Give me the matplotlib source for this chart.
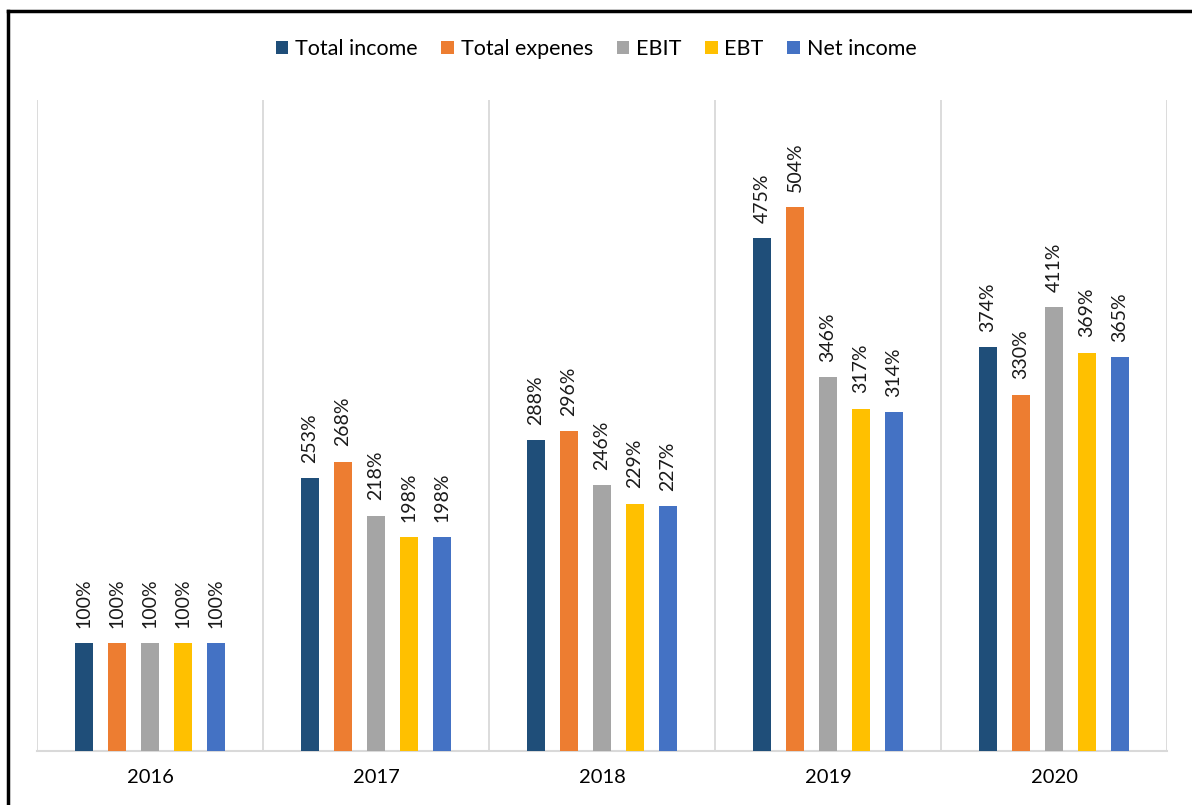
import matplotlib
matplotlib.use("Agg")
import matplotlib.pyplot as plt
from matplotlib.lines import Line2D
import numpy as np

plt.rcParams['font.family'] = ['Lato', 'DejaVu Sans']

years = ['2016', '2017', '2018', '2019', '2020']
series = ['Total income', 'Total expenes', 'EBIT', 'EBT', 'Net income']
total_income = [100, 253, 288, 475, 374]
total_expenses = [100, 268, 296, 504, 330]
ebit = [100, 218, 246, 346, 411]
ebt = [100, 198, 229, 317, 369]
net_income = [100, 198, 227, 314, 365]
colors = ['#1F4E79', '#ED7D31', '#A5A5A5', '#FFC000', '#4472C4']

values = [total_income, total_expenses, ebit, ebt, net_income]

W, H = 1192, 805
fig = plt.figure(figsize=(W / 100, H / 100), dpi=100)
ax = fig.add_axes([37 / W, 1 - 751 / H, (1167 - 37) / W, (751 - 100) / H])

x = np.arange(len(years))
step = 0.146
width = 0.08
for i, (name, vals, c) in enumerate(zip(series, values, colors)):
    pos = x + (i - 2) * step
    ax.bar(pos, vals, width=width, color=c, label=name, zorder=3)
    for px, v in zip(pos, vals):
        ax.annotate(f'{v}%', (px, v), xytext=(0, 11), textcoords='offset points',
                    rotation=90, ha='center', va='bottom', fontsize=14, color='#1a1a1a')

ax.set_xlim(-0.5, 4.5)
ax.set_ylim(0, 603)
for b in np.arange(-0.5, 5, 1):
    ax.axvline(b, color='#d9d9d9', lw=1.3, zorder=1)

ax.set_yticks([])
ax.set_xticks(x)
ax.set_xticklabels(years, fontsize=14.5)
ax.tick_params(axis='x', length=0, pad=13)
for s in ['top', 'right', 'left']:
    ax.spines[s].set_visible(False)
ax.spines['bottom'].set_color('#d9d9d9')
ax.spines['bottom'].set_linewidth(1.5)

fig.legend(loc='center', bbox_to_anchor=(0.5, 1 - 49 / H), ncol=5, frameon=False,
           fontsize=15.5, handlelength=0.6, handleheight=0.6, handletextpad=0.3,
           columnspacing=1.1)

# outer frame (left and top edges only visible)
fig.add_artist(Line2D([8 / W, 8 / W], [0, 1 - 11 / H], transform=fig.transFigure, color='black', lw=2.5))
fig.add_artist(Line2D([8 / W, 1], [1 - 11 / H, 1 - 11 / H], transform=fig.transFigure, color='black', lw=2.5))

fig.savefig('out.png', dpi=100)
